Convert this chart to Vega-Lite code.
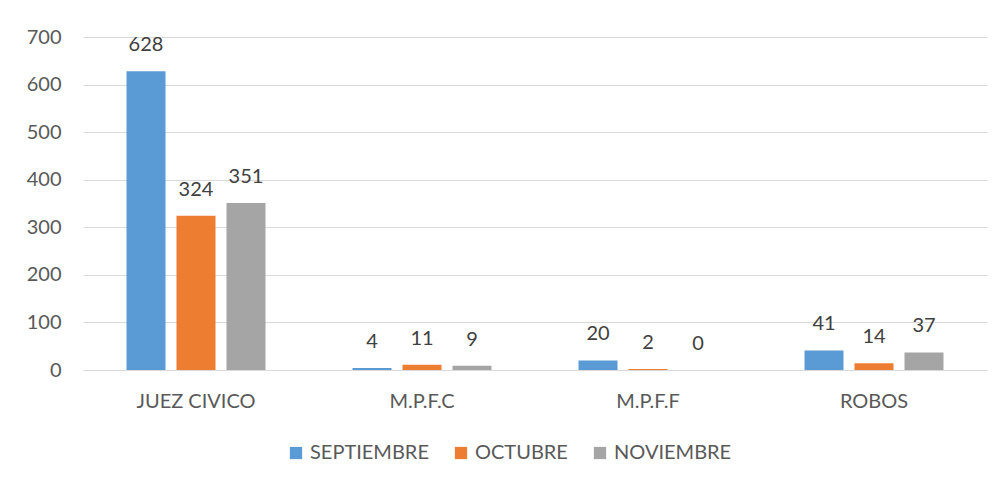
{
  "$schema": "https://vega.github.io/schema/vega-lite/v6.json",
  "autosize": "none",
  "width": 904,
  "height": 333,
  "padding": {"left": 83, "top": 37, "right": 19, "bottom": 118},
  "background": "white",
  "data": {"values": [
    {"cat": "JUEZ CIVICO", "mes": "SEPTIEMBRE", "v": 628},
    {"cat": "JUEZ CIVICO", "mes": "OCTUBRE", "v": 324},
    {"cat": "JUEZ CIVICO", "mes": "NOVIEMBRE", "v": 351},
    {"cat": "M.P.F.C", "mes": "SEPTIEMBRE", "v": 4},
    {"cat": "M.P.F.C", "mes": "OCTUBRE", "v": 11},
    {"cat": "M.P.F.C", "mes": "NOVIEMBRE", "v": 9},
    {"cat": "M.P.F.F", "mes": "SEPTIEMBRE", "v": 20},
    {"cat": "M.P.F.F", "mes": "OCTUBRE", "v": 2},
    {"cat": "M.P.F.F", "mes": "NOVIEMBRE", "v": 0},
    {"cat": "ROBOS", "mes": "SEPTIEMBRE", "v": 41},
    {"cat": "ROBOS", "mes": "OCTUBRE", "v": 14},
    {"cat": "ROBOS", "mes": "NOVIEMBRE", "v": 37}
  ]},
  "encoding": {
    "x": {"field": "cat", "type": "nominal", "sort": null,
      "scale": {"paddingInner": 0.385, "paddingOuter": 0.1925},
      "axis": {"title": null, "labelAngle": 0, "ticks": false, "domain": true, "domainColor": "#D9D9D9",
        "labelPadding": 21, "labelFontSize": 20, "labelColor": "#595959", "labelFont": "Lato", "grid": false}},
    "xOffset": {"field": "mes", "type": "nominal", "sort": ["SEPTIEMBRE", "OCTUBRE", "NOVIEMBRE"],
      "scale": {"paddingInner": 0.22, "paddingOuter": 0}},
    "y": {"field": "v", "type": "quantitative",
      "scale": {"domain": [0, 700], "nice": false},
      "axis": {"title": null, "values": [0,100,200,300,400,500,600,700], "ticks": false, "domain": false,
        "gridColor": "#D9D9D9", "labelPadding": 22, "labelFontSize": 20, "labelColor": "#595959", "labelFont": "Lato"}}
  },
  "layer": [
    {"mark": {"type": "bar"},
     "encoding": {
       "color": {"field": "mes", "type": "nominal", "sort": ["SEPTIEMBRE", "OCTUBRE", "NOVIEMBRE"],
         "scale": {"domain": ["SEPTIEMBRE", "OCTUBRE", "NOVIEMBRE"], "range": ["#5B9BD5", "#ED7D31", "#A5A5A5"]},
         "legend": {"title": null, "orient": "none", "legendX": 203, "legendY": 406, "direction": "horizontal", "symbolType": "square",
           "symbolSize": 150, "symbolStrokeWidth": 0, "labelFontSize": 20, "labelColor": "#595959", "labelFont": "Lato",
           "columnPadding": 22, "labelOffset": 4}}
     }},
    {"mark": {"type": "text", "baseline": "middle", "dy": -26, "fontSize": 20, "color": "#404040", "font": "Lato"},
     "encoding": {"text": {"field": "v", "type": "quantitative"}}}
  ],
  "config": {"view": {"stroke": null}}
}
